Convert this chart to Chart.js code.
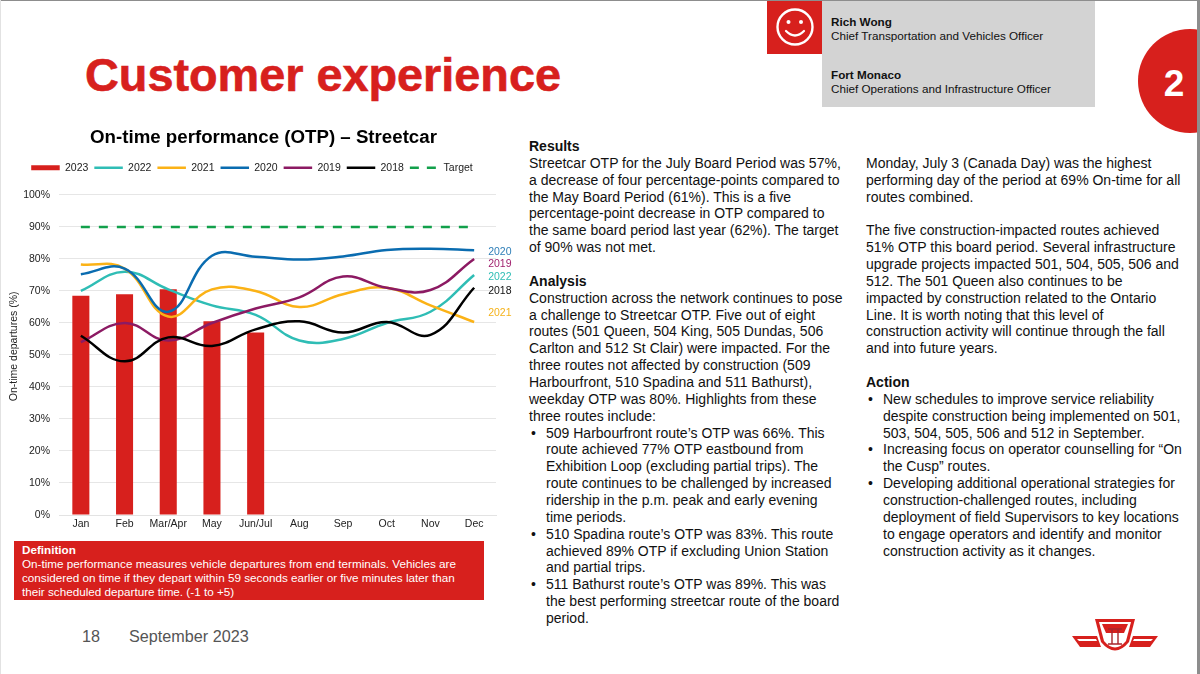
<!DOCTYPE html>
<html>
<head>
<meta charset="utf-8">
<title>Customer experience</title>
<script src="https://cdn.jsdelivr.net/npm/chart.js@4"></script>
<style>
  html, body { margin: 0; padding: 0; background: #fff; }
  body { width: 1200px; height: 674px; position: relative; overflow: hidden; font-family: "Liberation Sans", Arial, sans-serif; color: #111; }
  .abs { position: absolute; }
  #edge-top { left: 0; top: 0; width: 1200px; height: 1px; background: #8d8d8d; }
  #edge-right { left: 1197px; top: 0; width: 3px; height: 674px; background: #8d8d8d; z-index: 3; }
  #edge-left { left: 0; top: 0; width: 1px; height: 674px; background: #e2e2e2; }
  h1 { left: 85px; top: 45px; margin: 0; font-size: 46.8px; line-height: 60px; font-weight: bold; color: #d7201d; white-space: nowrap; -webkit-text-stroke: 0.6px #d7201d; }
  #names { left: 822px; top: 1px; width: 273px; height: 106px; background: #d3d3d3; font-size: 11.7px; line-height: 14px; color: #111; }
  #names div { position: absolute; left: 9px; white-space: nowrap; }
  #badge { left: 767px; top: 1px; }
  #corner { left: 1138px; top: 29px; width: 104px; height: 104px; border-radius: 50%; background: #d7201d; }
  #corner-num { left: 1159px; top: 62px; width: 30px; text-align: center; font-size: 37px; line-height: 44px; font-weight: bold; color: #fff; }
  #chart-wrap { left: 0; top: 120px; width: 526px; height: 417px; }
  #definition { left: 14px; top: 541px; width: 470px; height: 59px; background: #d7201d; color: #fff; font-size: 11.7px; line-height: 14px; padding-top: 2px; box-sizing: border-box; }
  #definition div { padding-left: 8px; white-space: nowrap; }
  .foot { top: 626px; font-size: 16.2px; line-height: 20px; color: #555; white-space: nowrap; }
  .col { top: 138px; font-size: 14px; line-height: 16.86px; white-space: nowrap; color: #111; }
  .col .b { position: relative; padding-left: 17px; }
  .col .b.first::before { content: "•"; position: absolute; left: 2px; }
</style>
</head>
<body>
<div class="abs" id="edge-top"></div>
<div class="abs" id="edge-left"></div>
<div class="abs" id="edge-right"></div>

<h1 class="abs">Customer experience</h1>

<div class="abs" id="names">
  <div style="top:14px"><b>Rich Wong</b><br>Chief Transportation and Vehicles Officer</div>
  <div style="top:67px"><b>Fort Monaco</b><br>Chief Operations and Infrastructure Officer</div>
</div>
<svg class="abs" id="badge" width="55" height="53" viewBox="0 0 55 53">
  <rect width="55" height="53" fill="#d7201d"/>
  <circle cx="28" cy="26" r="17.5" fill="none" stroke="#fff" stroke-width="2.4"/>
  <circle cx="21.5" cy="21" r="2" fill="#fff"/>
  <circle cx="34" cy="21" r="2" fill="#fff"/>
  <path d="M19 30 Q28 39 37 30" fill="none" stroke="#fff" stroke-width="2.2" stroke-linecap="round"/>
</svg>

<div class="abs" id="corner"></div>
<div class="abs" id="corner-num">2</div>

<div class="abs" id="chart-wrap"><canvas id="otp"></canvas></div>

<div class="abs" id="definition">
  <div><b>Definition</b></div>
  <div>On-time performance measures vehicle departures from end terminals. Vehicles are</div>
  <div>considered on time if they depart within 59 seconds earlier or five minutes later than</div>
  <div>their scheduled departure time. (-1 to +5)</div>
</div>

<div class="abs foot" style="left:82px">18</div>
<div class="abs foot" style="left:129px">September 2023</div>

<div class="abs col" style="left:529px">
  <div><b>Results</b></div>
  <div>Streetcar OTP for the July Board Period was 57%,</div>
  <div>a decrease of four percentage-points compared to</div>
  <div>the May Board Period (61%). This is a five</div>
  <div>percentage-point decrease in OTP compared to</div>
  <div>the same board period last year (62%). The target</div>
  <div>of 90% was not met.</div>
  <div>&nbsp;</div>
  <div><b>Analysis</b></div>
  <div>Construction across the network continues to pose</div>
  <div>a challenge to Streetcar OTP. Five out of eight</div>
  <div>routes (501 Queen, 504 King, 505 Dundas, 506</div>
  <div>Carlton and 512 St Clair) were impacted. For the</div>
  <div>three routes not affected by construction (509</div>
  <div>Harbourfront, 510 Spadina and 511 Bathurst),</div>
  <div>weekday OTP was 80%. Highlights from these</div>
  <div>three routes include:</div>
  <div class="b first">509 Harbourfront route’s OTP was 66%. This</div>
  <div class="b">route achieved 77% OTP eastbound from</div>
  <div class="b">Exhibition Loop (excluding partial trips). The</div>
  <div class="b">route continues to be challenged by increased</div>
  <div class="b">ridership in the p.m. peak and early evening</div>
  <div class="b">time periods.</div>
  <div class="b first">510 Spadina route’s OTP was 83%. This route</div>
  <div class="b">achieved 89% OTP if excluding Union Station</div>
  <div class="b">and partial trips.</div>
  <div class="b first">511 Bathurst route’s OTP was 89%. This was</div>
  <div class="b">the best performing streetcar route of the board</div>
  <div class="b">period.</div>
</div>

<div class="abs col" style="left:866px">
  <div>&nbsp;</div>
  <div>Monday, July 3 (Canada Day) was the highest</div>
  <div>performing day of the period at 69% On-time for all</div>
  <div>routes combined.</div>
  <div>&nbsp;</div>
  <div>The five construction-impacted routes achieved</div>
  <div>51% OTP this board period. Several infrastructure</div>
  <div>upgrade projects impacted 501, 504, 505, 506 and</div>
  <div>512. The 501 Queen also continues to be</div>
  <div>impacted by construction related to the Ontario</div>
  <div>Line. It is worth noting that this level of</div>
  <div>construction activity will continue through the fall</div>
  <div>and into future years.</div>
  <div>&nbsp;</div>
  <div><b>Action</b></div>
  <div class="b first">New schedules to improve service reliability</div>
  <div class="b">despite construction being implemented on 501,</div>
  <div class="b">503, 504, 505, 506 and 512 in September.</div>
  <div class="b first">Increasing focus on operator counselling for “On</div>
  <div class="b">the Cusp” routes.</div>
  <div class="b first">Developing additional operational strategies for</div>
  <div class="b">construction-challenged routes, including</div>
  <div class="b">deployment of field Supervisors to key locations</div>
  <div class="b">to engage operators and identify and monitor</div>
  <div class="b">construction activity as it changes.</div>
</div>

<svg class="abs" style="left:1070px;top:617px" width="90" height="38" viewBox="0 0 90 38">
  <path d="M2 19 H27 L31 30 H10 Z" fill="#d7201d"/>
  <path d="M7 22 H26 L27 24 H9 Z" fill="#fff"/>
  <path d="M88 19 H63 L59 30 H80 Z" fill="#d7201d"/>
  <path d="M83 22 H64 L63 24 H81 Z" fill="#fff"/>
  <path d="M25 2 H65 L59 25 Q45 42 31 25 Z" fill="#d7201d"/>
  <path d="M29 5 H61 L56 24 Q45 37 34 24 Z" fill="#fff"/>
  <path d="M32 7 H58 L54 16 H36 Z" fill="#d7201d"/>
  <path d="M38 12 H52 M42 12 V27 M48 12 V27 M38 27 H52" fill="none" stroke="#a8262c" stroke-width="1.4"/>
</svg>

<script>
"use strict";

const months = ["Jan", "Feb", "Mar/Apr", "May", "Jun/Jul", "Aug", "Sep", "Oct", "Nov", "Dec"];
const otp2023 = [68.5, 69, 70.5, 60.5, 57];
const otp2022 = [70, 76, 70.5, 65.5, 62.5, 54.5, 55, 60, 63.5, 75];
const otp2021 = [78.3, 77, 62, 70.5, 70, 65, 69, 71, 65.5, 60.3];
const otp2020 = [75.2, 77, 63.5, 81, 80.7, 79.8, 80.8, 82.8, 83.2, 82.7];
const otp2019 = [54, 60, 54.5, 60, 64.5, 68, 74.5, 71, 70.3, 80];
const otp2018 = [56, 48, 55.5, 52.8, 58, 60.5, 57, 60.3, 56.3, 71];
const target = [90, 90, 90, 90, 90, 90, 90, 90, 90, 90];

// end-of-line year labels, height read as a value on the y axis
const endLabels = ["2020", "2019", "2022", "2018", "2021"];
const endLabelValues = [82, 78.3, 74.3, 69.9, 63];
const endLabelColors = ["#2f7fb8", "#a01f6d", "#2fbdb5", "#111111", "#f5b21a"];

const TEAL = "#2fbdb5", AMBER = "#fbb216", BLUE = "#0a6cb0", PLUM = "#8c1a63", GREEN = "#12a04b", RED = "#d7201d";
const TICK = "#222";
const FONT = "'Liberation Sans', Arial, sans-serif";

function line(label, data, color, order, extra) {
  return Object.assign({
    type: "line", label, data, order,
    borderColor: color, backgroundColor: color,
    borderWidth: 2.5, pointRadius: 0, tension: 0.42, fill: false,
  }, extra);
}

// year names right of the last point, and the y axis title which sits above the axis centre
const axisTextPlugin = {
  id: "axisText",
  afterDatasetsDraw(chart) {
    const { ctx, scales } = chart;
    const x = scales.x.getPixelForValue(months.length - 1) + 14;
    ctx.save();
    ctx.font = "10.5px " + FONT;
    ctx.textBaseline = "middle";
    endLabels.forEach((t, i) => {
      ctx.fillStyle = endLabelColors[i];
      ctx.fillText(t, x, scales.y.getPixelForValue(endLabelValues[i]));
    });
    ctx.translate(14, scales.y.getPixelForValue(52.7));
    ctx.rotate(-Math.PI / 2);
    ctx.textAlign = "center";
    ctx.fillStyle = TICK;
    ctx.fillText("On-time departures (%)", 0, 0);
    ctx.restore();
  },
};

// title and legend are not centred on the canvas in the reference
const blockShift = {
  id: "blockShift",
  beforeInit(chart) {
    const fit = chart.legend.fit;
    chart.legend.fit = function () { fit.call(this); this.height += 12; };
  },
  afterLayout(chart) {
    chart.legend.left += 4; chart.legend.right += 4;
    chart.titleBlock.left += 15.5; chart.titleBlock.right += 15.5;
  },
};

new Chart(document.getElementById("otp"), {
  data: {
    labels: months,
    datasets: [
      { type: "bar", label: "2023", data: otp2023, order: 7, backgroundColor: RED, borderColor: RED,
        barPercentage: 0.39, categoryPercentage: 1 },
      line("2022", otp2022, TEAL, 6),
      line("2021", otp2021, AMBER, 5),
      line("2020", otp2020, BLUE, 4),
      line("2019", otp2019, PLUM, 3),
      line("2018", otp2018, "#000", 2),
      line("Target", target, GREEN, 1, { borderDash: [9, 9], tension: 0 }),
    ],
  },
  plugins: [axisTextPlugin, blockShift],
  options: {
    responsive: true,
    maintainAspectRatio: false,
    animation: false,
    layout: { padding: { right: 30 } },
    plugins: {
      tooltip: { enabled: false },
      title: {
        display: true,
        text: "On-time performance (OTP) – Streetcar",
        color: "#000",
        font: { family: FONT, size: 18.7, weight: "bold" },
        padding: { top: 7, bottom: 7 },
      },
      legend: {
        position: "top",
        labels: {
          usePointStyle: true,
          pointStyle: "line",
          pointStyleWidth: 28.5,
          padding: 6,
          color: TICK,
          font: { family: FONT, size: 10.5 },
          boxHeight: 8,
          sort: (a, b) => a.datasetIndex - b.datasetIndex,
          generateLabels(chart) {
            return Chart.defaults.plugins.legend.labels.generateLabels(chart).map((item) => {
              const ds = chart.data.datasets[item.datasetIndex];
              item.strokeStyle = ds.borderColor;
              item.lineWidth = ds.type === "bar" ? 5 : 2.5;
              item.pointStyle = "line";
              if (ds.label === "Target") item.lineDash = [9, 8];
              return item;
            });
          },
        },
      },
    },
    scales: {
      x: {
        grid: { display: false, drawTicks: false },
        border: { color: "#e3e3e3" },
        ticks: { color: TICK, font: { family: FONT, size: 10.5 }, padding: 3, maxRotation: 0, autoSkip: false },
        afterFit(scale) { scale.height = 22; },
      },
      y: {
        min: 0, max: 100,
        grid: { color: "#e6e6e6", lineWidth: 1, drawTicks: false },
        border: { display: false },
        ticks: { stepSize: 10, color: TICK, font: { family: FONT, size: 10.5 }, padding: 9,
          callback: (v) => v + "%" },
        afterFit(scale) { scale.width = 59; },
      },
    },
  },
});
</script>
</body>
</html>
